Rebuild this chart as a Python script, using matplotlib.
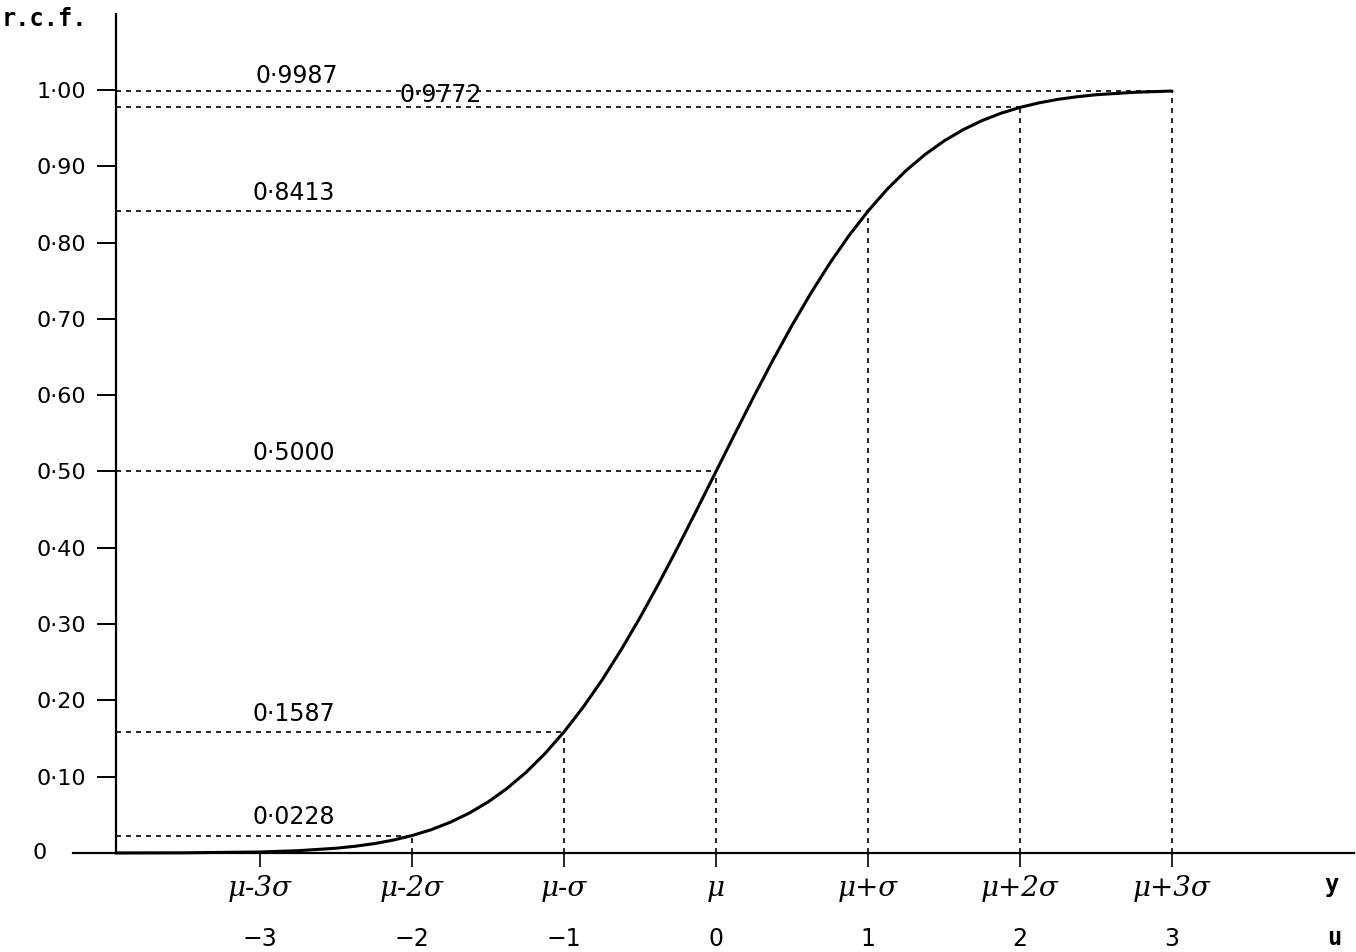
import matplotlib.pyplot as plt

u_curve = [-3.95, -3.5, -3.0, -2.75, -2.5, -2.375, -2.25, -2.125, -2.0, -1.875,
           -1.75, -1.625, -1.5, -1.375, -1.25, -1.125, -1.0, -0.875, -0.75, -0.625,
           -0.5, -0.375, -0.25, -0.125, 0.0, 0.125, 0.25, 0.375, 0.5, 0.625,
           0.75, 0.875, 1.0, 1.125, 1.25, 1.375, 1.5, 1.625, 1.75, 1.875,
           2.0, 2.125, 2.25, 2.375, 2.5, 2.75, 3.0]
rcf_curve = [0.0, 0.0002, 0.0013, 0.003, 0.0062, 0.0088, 0.0122, 0.0168, 0.0228, 0.0304,
             0.0401, 0.0521, 0.0668, 0.0846, 0.1056, 0.1303, 0.1587, 0.1908, 0.2266, 0.2660,
             0.3085, 0.3538, 0.4013, 0.4503, 0.5000, 0.5497, 0.5987, 0.6462, 0.6915, 0.7340,
             0.7734, 0.8092, 0.8413, 0.8697, 0.8944, 0.9154, 0.9332, 0.9479, 0.9599, 0.9696,
             0.9772, 0.9832, 0.9878, 0.9912, 0.9938, 0.9970, 0.9987]

# pontos marcados com linhas de referência
u_marks = [-2, -1, 0, 1, 2, 3]
rcf_marks = [0.0228, 0.1587, 0.5000, 0.8413, 0.9772, 0.9987]
mark_labels = ['0·0228', '0·1587', '0·5000', '0·8413', '0·9772', '0·9987']

# eixos
y_ticks = [0.1, 0.2, 0.3, 0.4, 0.5, 0.6, 0.7, 0.8, 0.9, 1.0]
y_tick_labels = ['0·10', '0·20', '0·30', '0·40', '0·50', '0·60', '0·70', '0·80', '0·90', '1·00']
x_ticks = [-3, -2, -1, 0, 1, 2, 3]
mu_labels = ['μ-3σ', 'μ-2σ', 'μ-σ', 'μ', 'μ+σ', 'μ+2σ', 'μ+3σ']
u_labels = ['−3', '−2', '−1', '0', '1', '2', '3']

y_axis_u = -3.95
ylim = (-0.1298, 1.118)

fig = plt.figure(figsize=(13.56, 9.52), dpi=100)
ax = fig.add_axes([0, 0, 1, 1])
ax.set_xlim(-4.7105, 4.2105)
ax.set_ylim(*ylim)

for s in ['top', 'right']:
    ax.spines[s].set_visible(False)
ax.spines['left'].set_position(('data', y_axis_u))
ax.spines['left'].set_bounds(0, 1.10)
ax.spines['bottom'].set_position(('data', 0))
ax.spines['bottom'].set_bounds(-4.23, 4.2)
for s in ['left', 'bottom']:
    ax.spines[s].set_linewidth(1.6)

hand = dict(family='DejaVu Sans', fontsize=16)

ax.set_yticks(y_ticks, y_tick_labels, **hand)
ax.tick_params(axis='y', direction='out', length=14, width=1.4, pad=7)
ax.text(-4.45, 0, '0', ha='center', va='center', **hand)

ax.set_xticks(x_ticks, mu_labels, fontsize=20, style='italic', family='DejaVu Serif')
ax.tick_params(axis='x', direction='out', length=10, width=1.2, pad=6)

# segunda linha de rótulos (u)
loc0 = (0 - ylim[0]) / (ylim[1] - ylim[0])
sec = ax.secondary_xaxis(loc0)
sec.set_xticks(x_ticks, u_labels, family='DejaVu Sans', fontsize=17)
sec.tick_params(axis='x', length=0, pad=53)
sec.spines['bottom'].set_visible(False)

# linhas de referência pontilhadas
dash = (0, (3, 3))
ax.hlines(rcf_marks, y_axis_u, u_marks, colors='black', linewidth=1.2, linestyles=[dash])
ax.vlines(u_marks, 0, rcf_marks, colors='black', linewidth=1.2, linestyles=[dash])

# curva acumulada
ax.plot(u_curve, rcf_curve, color='black', linewidth=2.2, solid_capstyle='round',
        solid_joinstyle='round')

# rótulos dos valores
for u, v, lab in zip(u_marks, rcf_marks, mark_labels):
    if lab == '0·9772':
        ax.text(-2.08, v + 0.001, lab, ha='left', va='bottom', fontsize=17)
    elif lab == '0·9987':
        ax.text(-3.03, v + 0.004, lab, ha='left', va='bottom', fontsize=17)
    else:
        ax.text(-3.05, v + 0.008, lab, ha='left', va='bottom', fontsize=17)

mono = dict(family='DejaVu Sans Mono', fontsize=17, fontweight='bold')
ax.text(-4.70, 1.093, 'r.c.f.', ha='left', va='center', **mono)
ax.text(4.05, -0.042, 'y', ha='center', va='center', **mono)
ax.text(4.07, -0.112, 'u', ha='center', va='center', **mono)

fig.savefig('out.png', dpi=100)
